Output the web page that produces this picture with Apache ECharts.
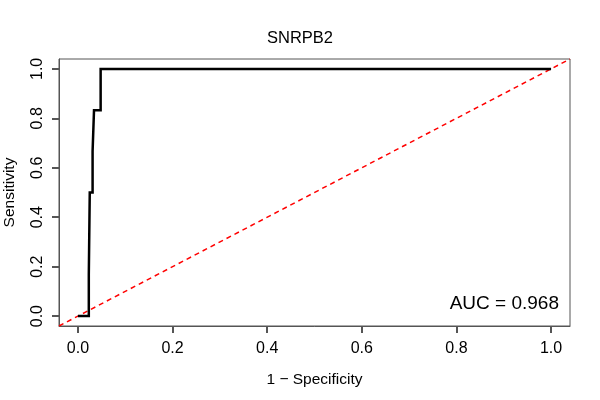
<!DOCTYPE html>
<html>
<head>
<meta charset="utf-8">
<script src="https://cdn.jsdelivr.net/npm/echarts@6/dist/echarts.min.js"></script>
<style>
  html, body { margin: 0; padding: 0; background: #fff; }
  #chart { width: 600px; height: 400px; }
</style>
</head>
<body>
<div id="chart"></div>
<script>
// ROC curve for SNRPB2
const fpr = [0, 0.023, 0.023, 0.025, 0.025, 0.031, 0.031, 0.034, 0.034, 0.048, 0.048, 1.0];
const tpr = [0, 0, 0.167, 0.167, 0.5, 0.5, 0.667, 0.667, 0.833, 0.833, 1.0, 1.0];

// reference diagonal spans the full plot region
const diagX = [-0.04, 1.04];
const diagY = [-0.04, 1.04];

const tickValues = [0, 0.2, 0.4, 0.6, 0.8, 1.0];
const titleText = 'SNRPB2';
const aucText = 'AUC = 0.968';

const font = '"Liberation Sans", Arial, Helvetica, sans-serif';

const chart = echarts.init(document.getElementById('chart'), null, { renderer: 'canvas' });

function axisCommon(name) {
  return {
    type: 'value',
    min: -0.04,
    max: 1.04,
    name: name,
    nameLocation: 'middle',
    nameTextStyle: { fontFamily: font, fontSize: 15.5, color: '#000' },
    axisLine: { show: true, onZero: false, lineStyle: { color: '#555', width: 1 } },
    splitLine: { show: false },
    axisTick: {
      show: true,
      length: 7,
      customValues: tickValues,
      lineStyle: { color: '#555555', width: 2 }
    },
    axisLabel: {
      customValues: tickValues,
      fontFamily: font,
      fontSize: 16,
      color: '#000',
      formatter: v => v.toFixed(1)
    }
  };
}

const xAxis = axisCommon('1 \u2212 Specificity');
xAxis.nameGap = 46;
xAxis.axisLabel.margin = 15;

const yAxis = axisCommon('Sensitivity');
yAxis.nameGap = 41;
yAxis.axisLabel.rotate = 90;
yAxis.axisLabel.margin = 13;

chart.setOption({
  backgroundColor: '#fff',
  animation: false,
  title: {
    text: titleText,
    left: 'center',
    top: 25,
    textStyle: { fontFamily: font, fontSize: 16.5, fontWeight: 'normal', color: '#000' }
  },
  grid: {
    left: 59,
    right: 30,
    top: 59,
    bottom: 74,
    outerBoundsMode: 'none',
    containLabel: false,
    show: true,
    borderColor: '#555',
    borderWidth: 1,
    backgroundColor: 'transparent'
  },
  xAxis: xAxis,
  yAxis: yAxis,
  graphic: [{
    type: 'text',
    right: 41,
    top: 294,
    style: {
      text: aucText,
      font: '19px ' + font,
      fill: '#000'
    }
  }],
  series: [
    {
      type: 'line',
      data: diagX.map((x, i) => [x, diagY[i]]),
      symbol: 'none',
      clip: true,
      lineStyle: { color: '#ff0000', width: 1.5, type: [5, 4] },
      z: 2
    },
    {
      type: 'line',
      data: fpr.map((x, i) => [x, tpr[i]]),
      symbol: 'none',
      clip: true,
      lineStyle: { color: '#000', width: 2.5, join: 'miter', cap: 'butt' },
      z: 3
    }
  ]
});
</script>
</body>
</html>
